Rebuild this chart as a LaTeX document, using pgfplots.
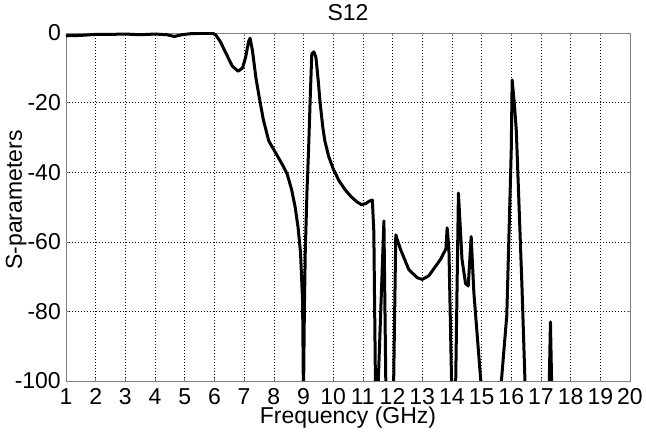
\documentclass[border=0pt]{standalone}
\usepackage{pgfplots}
\pgfplotsset{compat=1.18}
\usepackage{fontspec}
\setmainfont{Liberation Sans}
\begin{document}
\begin{tikzpicture}
\begin{axis}[
  scale only axis,
  width=564pt, height=348pt,
  xmin=1, xmax=20, ymin=-100, ymax=0,
  xtick={1,2,...,20},
  ytick={-100,-80,-60,-40,-20,0},
  /pgf/number format/assume math mode=true,
  font=\fontsize{23}{26}\selectfont,
  tick label style={font=\fontsize{23}{26}\selectfont, inner sep=0pt},
  xticklabel style={anchor=base, yshift=-23.5pt},
  yticklabel style={anchor=east, xshift=-5pt},
  major tick length=3pt,
  tick align=inside,
  tick style={gray, line width=0.5pt},
  axis line style={gray, line width=0.8pt},
  grid=major,
  grid style={black, dash pattern=on 1.4pt off 1.6pt, line width=0.5pt},
  title={S12},
  title style={at={(axis description cs:0.5,1)}, anchor=base, yshift=6pt, inner sep=0pt},
  xlabel={Frequency (GHz)},
  xlabel style={at={(axis description cs:0.5,0)}, anchor=base, yshift=-42.5pt, inner sep=0pt},
  ylabel={S-parameters},
  ylabel style={at={([xshift=-44pt]axis description cs:0,0.52)}, anchor=base, rotate=0, inner sep=0pt},
  clip=true,
]
\addplot[black, line width=3pt, line join=round] coordinates {
(1.0,-0.8) (1.5,-0.7) (2.0,-0.4) (2.5,-0.4) (3.0,-0.3) (3.5,-0.5) (4.0,-0.3)
(4.4,-0.5) (4.65,-1.0) (4.9,-0.5) (5.2,-0.2) (5.6,-0.1) (5.95,-0.1)
(6.05,-0.6) (6.2,-2.5) (6.4,-6) (6.6,-9.5) (6.8,-11) (6.95,-10) (7.05,-7)
(7.15,-2.5) (7.2,-1.5) (7.28,-5) (7.4,-13) (7.5,-18) (7.65,-25) (7.83,-31)
(8.1,-35) (8.3,-38) (8.45,-40.5) (8.6,-45) (8.72,-50) (8.82,-56) (8.9,-63)
(8.97,-77) (9.0,-105) (9.03,-80) (9.06,-63) (9.12,-45) (9.17,-34) (9.23,-18)
(9.28,-6) (9.35,-5.4) (9.42,-7) (9.5,-14) (9.56,-20) (9.65,-27) (9.72,-31)
(9.85,-35.5) (10.0,-39) (10.2,-42.5) (10.4,-45) (10.6,-47) (10.8,-48.5)
(10.95,-49.3) (11.1,-49) (11.22,-48.3) (11.32,-48) (11.37,-57) (11.43,-105)
(11.5,-105) (11.71,-54) (11.78,-105) (12.03,-105) (12.11,-58) (12.27,-62.2)
(12.55,-68) (12.83,-70.3) (13.0,-70.8) (13.22,-69.8) (13.62,-65) (13.8,-62)
(13.84,-56) (13.9,-62) (14.0,-105) (14.12,-105) (14.22,-46) (14.34,-65)
(14.46,-72) (14.55,-72.7) (14.65,-58.5) (14.74,-74.6) (15.02,-105)
(15.62,-105) (15.85,-81) (16.0,-33.5) (16.03,-13.5) (16.1,-20) (16.17,-28)
(16.36,-72.7) (16.48,-105) (17.27,-105) (17.32,-83) (17.37,-105)
};
\end{axis}
\path[use as bounding box] (-66pt,-53pt) rectangle (580pt,381pt);
\end{tikzpicture}
\end{document}
